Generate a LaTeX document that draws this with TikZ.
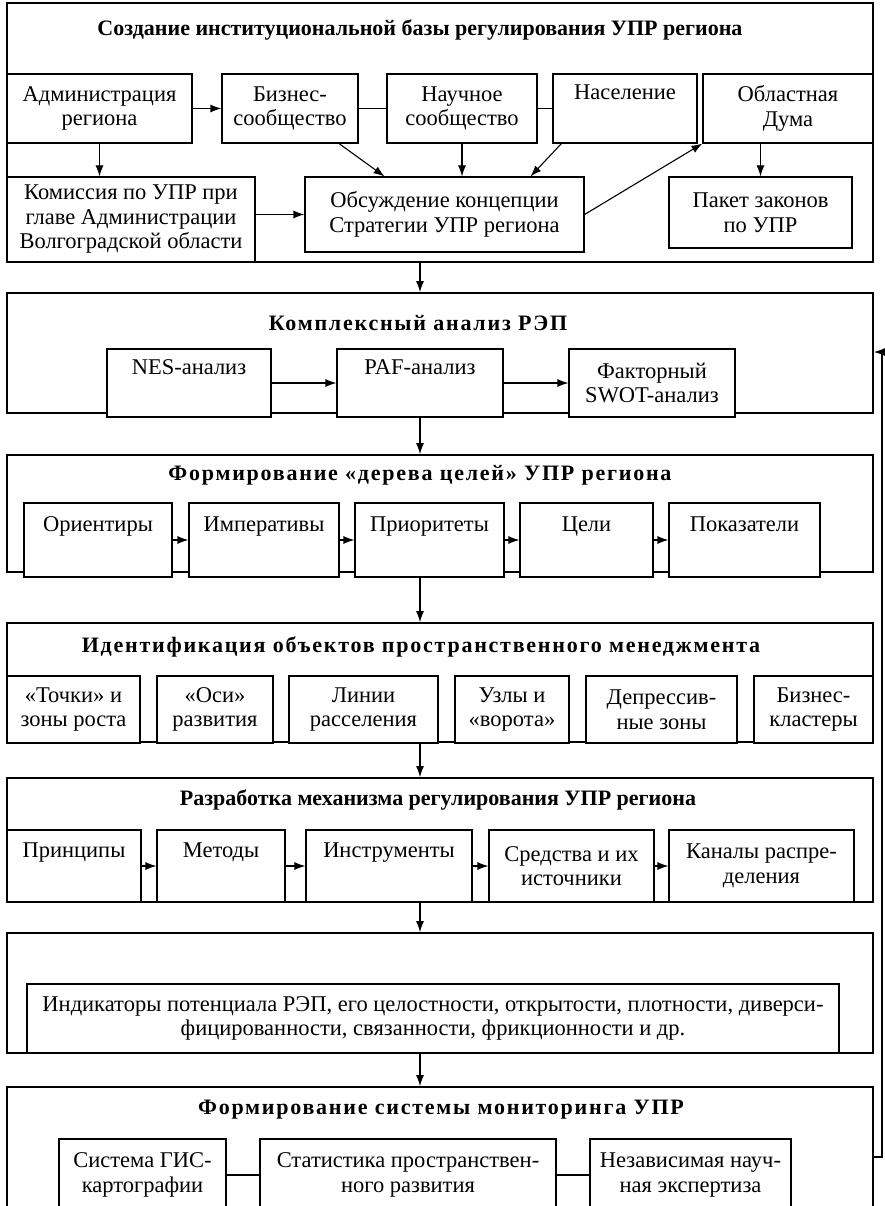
\documentclass[tikz,border=0pt]{standalone}
\usepackage{fontspec}
\setmainfont{Liberation Serif}
\usetikzlibrary{arrows.meta}

\tikzset{
  obox/.style={draw,line width=1.8pt,minimum width=866pt},
  ibox/.style={draw,line width=1.1pt,fill=white,align=center,inner sep=1pt},
  ttl/.style={font=\fontsize{22}{24}\selectfont\bfseries},
  ttlsp/.style={font=\fontsize{22}{24}\selectfont\bfseries\addfontfeature{LetterSpace=8}},
  >={Latex[length=11pt,width=8pt]}
}

\begin{document}
\begin{tikzpicture}[x=1pt,y=-1pt,font=\fontsize{22.5}{24.5}\selectfont,line width=1.1pt]
    \useasboundingbox (0,0) rectangle (885,1206);

    % outer blocks
    \node[obox,minimum height=259pt] (inst) at (440,132.5) {};
    \node[obox,minimum height=120pt] (rep) at (440,353) {};
    \node[obox,minimum height=117pt] (tree) at (440,513.5) {};
    \node[obox,minimum height=119pt] (obj) at (440,682.5) {};
    \node[obox,minimum height=124pt] (mech) at (440,840) {};
    \node[obox,minimum height=120pt] (ind) at (440,993) {};
    \node[obox,minimum height=143pt] (mon) at (440,1158.5) {};

    \node[ttl] (t1) at (420,30) {Создание институциональной базы регулирования УПР региона};
    \node[ttlsp] (t2) at (418,323) {Комплексный анализ РЭП};
    \node[ttlsp] (t3) at (420,475) {Формирование «дерева целей» УПР региона};
    \node[ttlsp] (t4) at (421,647) {Идентификация объектов пространственного менеджмента};
    \node[ttl] (t5) at (438,800) {Разработка механизма регулирования УПР региона};
    \node[ttlsp] (t7) at (441,1110) {Формирование системы мониторинга УПР};

    % block 1
    \node[ibox,minimum width=185pt,minimum height=69pt] (adm) at (99.5,108.5) {Администрация\\региона};
    \node[ibox,minimum width=136pt,minimum height=69pt] (biz) at (290,108.5) {Бизнес-\\сообщество};
    \node[ibox,minimum width=150pt,minimum height=69pt] (sci) at (462,108.5) {Научное\\сообщество};
    \node[ibox,minimum width=144pt,minimum height=69pt] (pop) at (625,108.5) {Население\\\strut};
    \node[ibox,minimum width=170pt,minimum height=69pt] (duma) at (788,108.5) {Областная\\Дума};
    \node[ibox,minimum width=248pt,minimum height=85pt] (kom) at (131,219.5) {Комиссия по УПР при\\главе Администрации\\Волгоградской области};
    \node[ibox,minimum width=279pt,minimum height=75pt] (disc) at (444.5,214.5) {Обсуждение концепции\\Стратегии УПР региона};
    \node[ibox,minimum width=183pt,minimum height=71pt] (laws) at (760.5,212.5) {Пакет законов\\по УПР};

    \draw[->] (adm) -- (biz);
    \draw (biz) -- (sci);
    \draw (sci) -- (pop);
    \draw[->] (adm.south) -- (adm.south |- kom.north);
    \draw[->] (kom.east |- disc.west) -- (disc.west);
    \draw[->] ([xshift=49pt]biz.south) -- ([xshift=-60pt]disc.north);
    \draw[->] (sci.south) -- (sci.south |- disc.north);
    \draw[->] ([xshift=9pt]pop.south west) -- ([xshift=86pt]disc.north);
    \draw[->] (disc.east) -- (duma.south west);
    \draw[->] (duma.south -| laws.north) -- (laws.north);

    % block 2
    \node[ibox,minimum width=164pt,minimum height=68pt] (nes) at (189,383) {NES-анализ\\\strut};
    \node[ibox,minimum width=166pt,minimum height=68pt] (paf) at (420,383) {PAF-анализ\\\strut};
    \node[ibox,minimum width=166pt,minimum height=68pt] (swot) at (652,383) {Факторный\\SWOT-анализ};
    \draw[->] (nes) -- (paf);
    \draw[->] (paf) -- (swot);

    % block 3
    \node[ibox,minimum width=148pt,minimum height=74pt] (g1) at (98,540) {Ориентиры\\\strut};
    \node[ibox,minimum width=150pt,minimum height=74pt] (g2) at (264,540) {Императивы\\\strut};
    \node[ibox,minimum width=149pt,minimum height=74pt] (g3) at (429.5,540) {Приоритеты\\\strut};
    \node[ibox,minimum width=133pt,minimum height=74pt] (g4) at (586.5,540) {Цели\\\strut};
    \node[ibox,minimum width=151pt,minimum height=74pt] (g5) at (744.5,540) {Показатели\\\strut};
    \draw[->] (g1) -- (g2);
    \draw[->] (g2) -- (g3);
    \draw[->] (g3) -- (g4);
    \draw[->] (g4) -- (g5);

    % block 4
    \node[ibox,minimum width=133pt,minimum height=67pt] (o1) at (73.5,709.5) {«Точки» и\\зоны роста};
    \node[ibox,minimum width=116pt,minimum height=67pt] (o2) at (215,709.5) {«Оси»\\развития};
    \node[ibox,minimum width=149pt,minimum height=67pt] (o3) at (363.5,709.5) {Линии\\расселения};
    \node[ibox,minimum width=114pt,minimum height=67pt] (o4) at (512,709.5) {Узлы и\\«ворота»};
    \node[ibox,minimum width=151pt,minimum height=67pt] (o5) at (661.5,709.5) {Депрессив-\\ные зоны};
    \node[ibox,minimum width=119pt,minimum height=67pt] (o6) at (813.5,709.5) {Бизнес-\\кластеры};

    % block 5
    \node[ibox,minimum width=134pt,minimum height=72pt] (m1) at (74,866) {Принципы\\\strut};
    \node[ibox,minimum width=128pt,minimum height=72pt] (m2) at (221,866) {Методы\\\strut};
    \node[ibox,minimum width=166pt,minimum height=72pt] (m3) at (389,866) {Инструменты\\\strut};
    \node[ibox,minimum width=165pt,minimum height=72pt] (m4) at (571.5,866) {Средства и их\\источники};
    \node[ibox,minimum width=185pt,minimum height=72pt] (m5) at (761.5,866) {Каналы распре-\\деления};
    \draw[->] (m1) -- (m2);
    \draw[->] (m2) -- (m3);
    \draw[->] (m3) -- (m4);
    \draw[->] (m4) -- (m5);

    % block 6
    \node[ibox,minimum width=812pt,minimum height=69pt] (indic) at (433,1018.5) {Индикаторы потенциала РЭП, его целостности, открытости, плотности, диверси-\\фицированности, связанности, фрикционности и др.};

    % block 7
    \node[ibox,minimum width=167pt,minimum height=72pt] (gis) at (142.5,1175) {Система ГИС-\\картографии};
    \node[ibox,minimum width=296pt,minimum height=72pt] (stat) at (408,1175) {Статистика пространствен-\\ного развития};
    \node[ibox,minimum width=201pt,minimum height=72pt] (exp) at (690.5,1175) {Независимая науч-\\ная экспертиза};
    \draw (gis) -- (stat);
    \draw (stat) -- (exp);

    % links between blocks
    \coordinate (ax) at (420,0);
    \draw[->] (inst.south -| ax) -- (rep.north -| ax);
    \draw[->] (paf.south) -- (tree.north -| ax);
    \draw[->] (g3.south -| ax) -- (obj.north -| ax);
    \draw[->] (obj.south -| ax) -- (mech.north -| ax);
    \draw[->] (mech.south -| ax) -- (ind.north -| ax);
    \draw[->] (ind.south -| ax) -- (mon.north -| ax);

    % feedback
    \coordinate (fb1) at (882,1157);
    \coordinate (fb2) at (882,352);
    \draw[->] (fb1 -| mon.east) -- (fb1) -- (fb2) -- (fb2 -| rep.east);
\end{tikzpicture}
\end{document}
